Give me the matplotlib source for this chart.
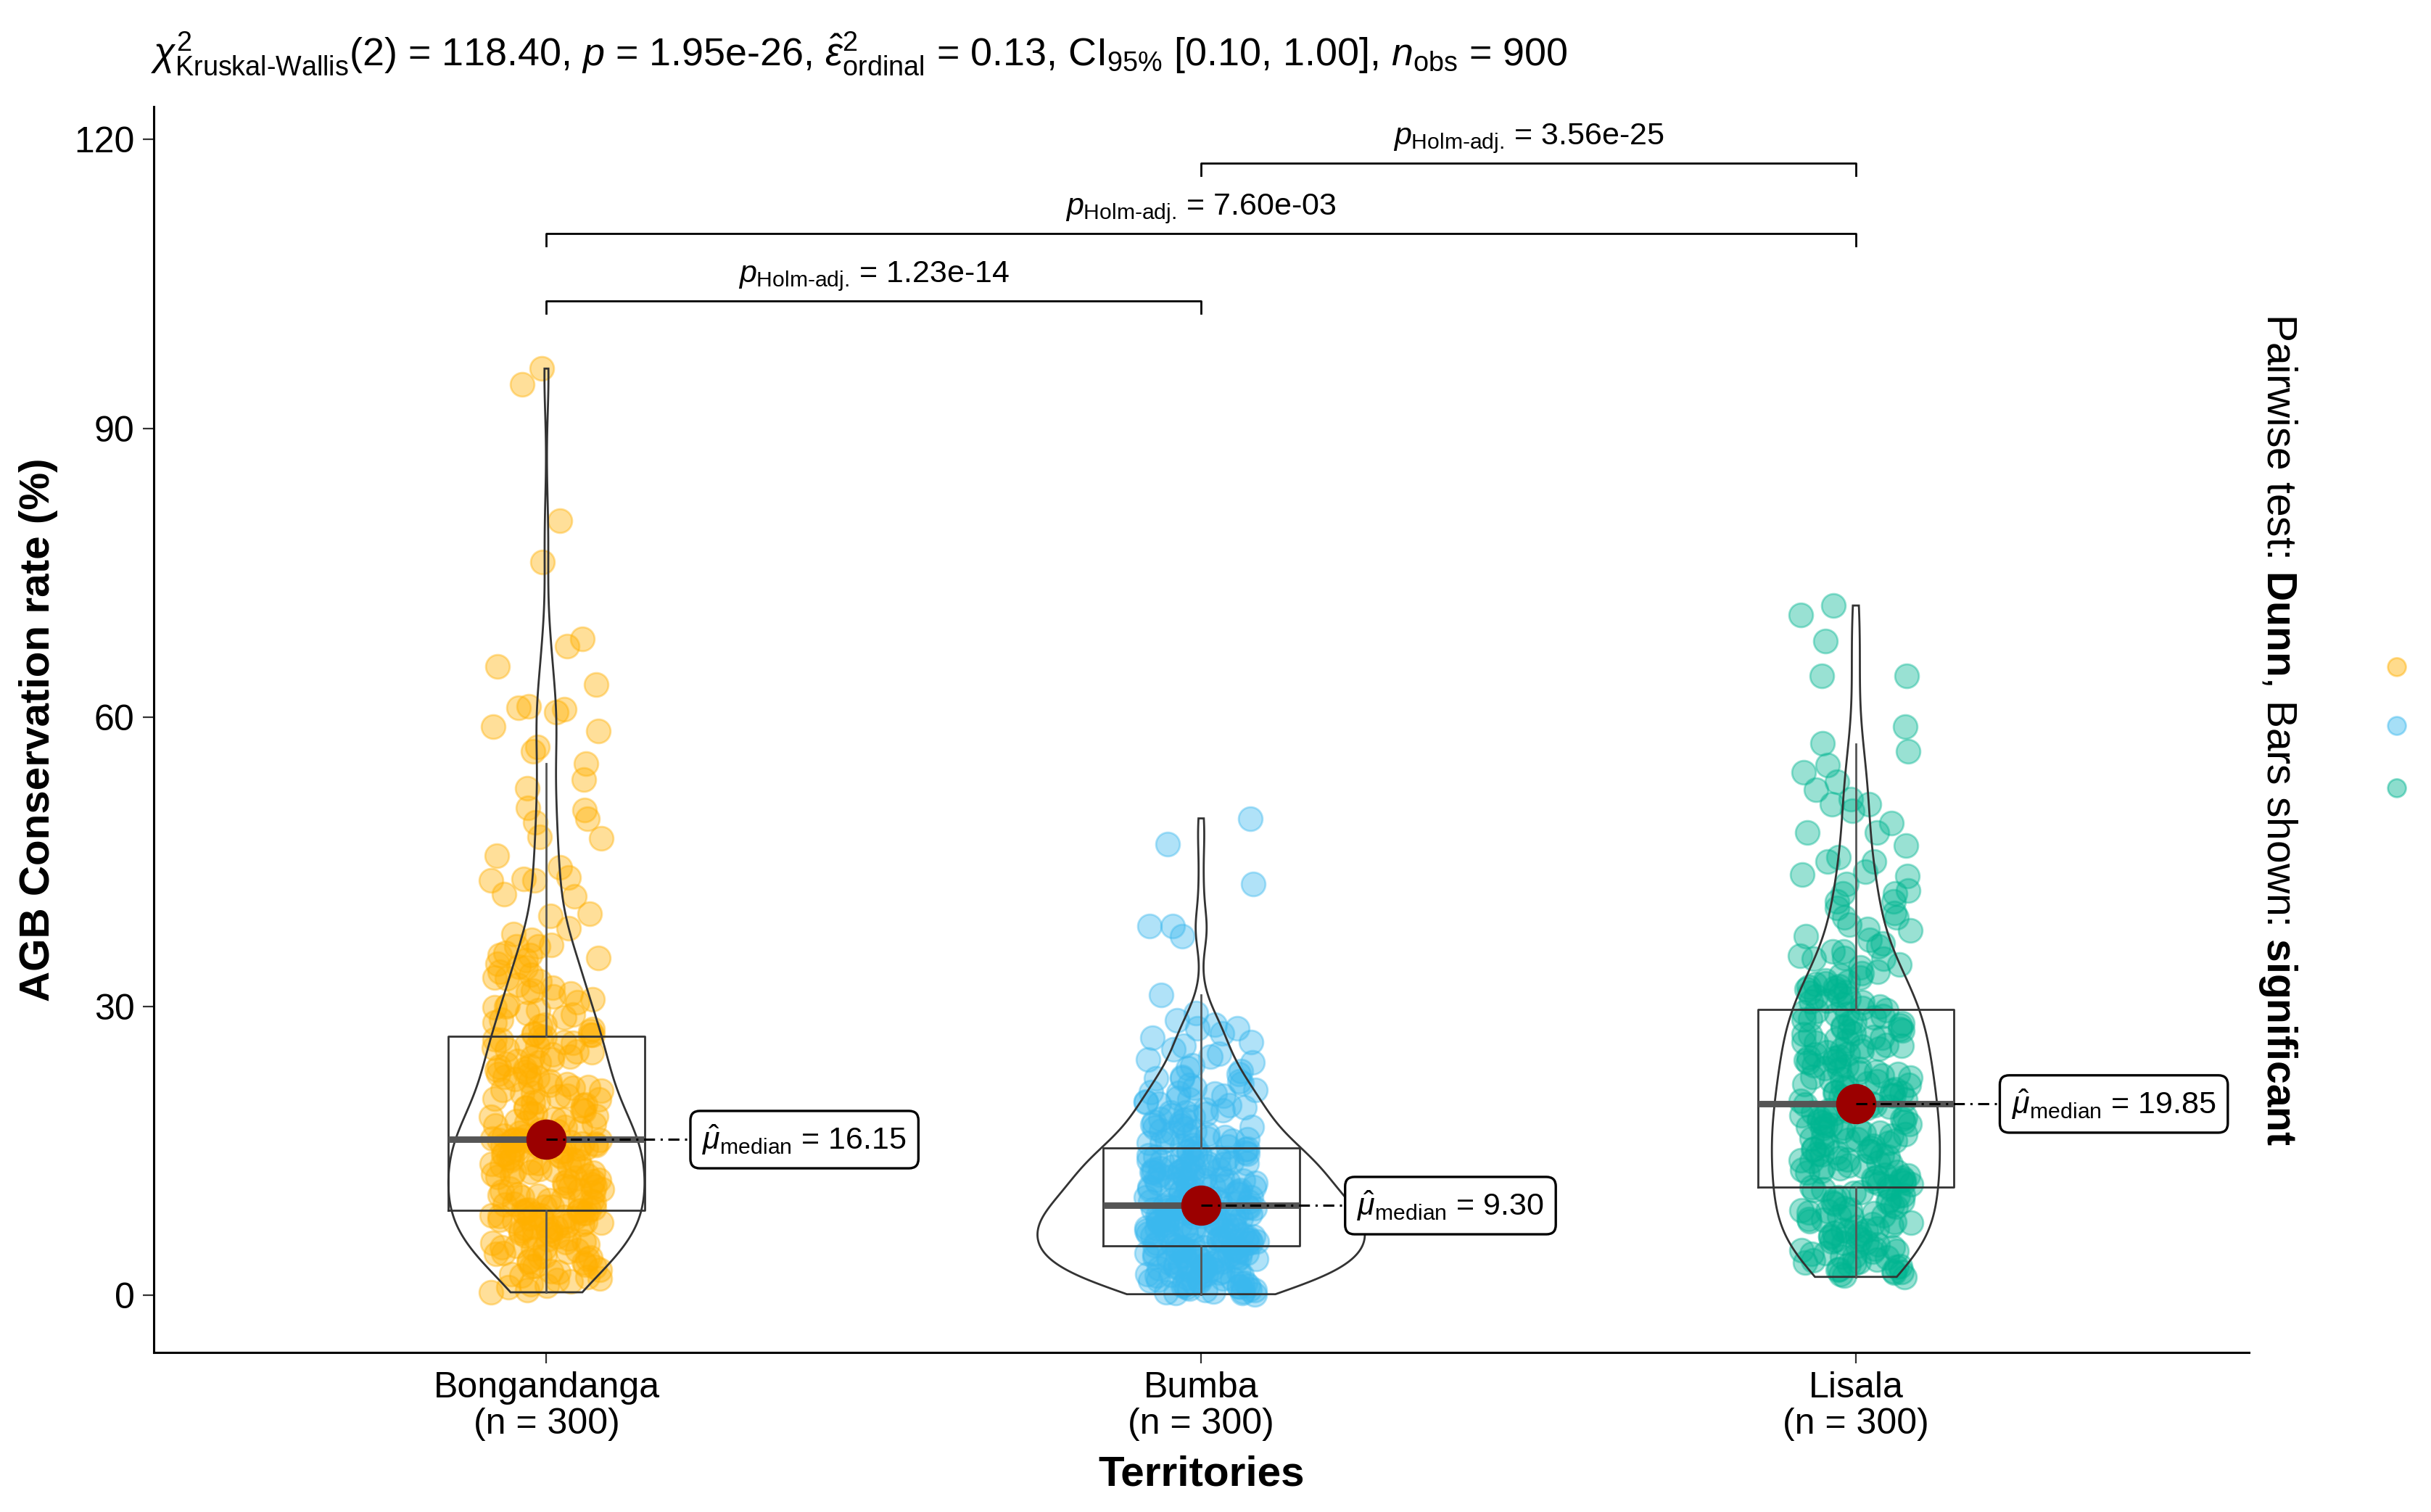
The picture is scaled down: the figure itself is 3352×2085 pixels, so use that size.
import numpy as np
import matplotlib
matplotlib.use("Agg")
import matplotlib.pyplot as plt

plt.rcParams['font.family'] = 'Liberation Sans'
plt.rcParams['mathtext.fontset'] = 'custom'
plt.rcParams['mathtext.rm'] = 'Liberation Sans'
plt.rcParams['mathtext.it'] = 'Liberation Sans:italic'
plt.rcParams['mathtext.bf'] = 'Liberation Sans:bold'

# ---- data ----
territories = ["Bongandanga", "Bumba", "Lisala"]
counts = [300, 300, 300]
colors = ["#FFB000", "#3AB8EE", "#00B591"]

bongandanga = [
    0.3, 0.5, 0.8, 1.0, 1.1, 1.4, 1.6, 1.7, 1.9, 2.0,
    2.2, 2.4, 2.5, 2.6, 2.9, 3.0, 3.0, 3.2, 3.4, 3.5,
    3.6, 3.8, 3.9, 4.0, 4.1, 4.3, 4.4, 4.5, 4.7, 4.8,
    4.9, 5.0, 5.1, 5.3, 5.4, 5.5, 5.6, 5.8, 5.9, 6.0,
    6.1, 6.2, 6.3, 6.5, 6.6, 6.7, 6.8, 6.9, 7.0, 7.1,
    7.2, 7.3, 7.4, 7.5, 7.5, 7.6, 7.7, 7.8, 7.9, 8.0,
    8.0, 8.1, 8.2, 8.3, 8.3, 8.4, 8.5, 8.5, 8.6, 8.7,
    8.7, 8.8, 8.8, 8.9, 8.9,
    9.0, 9.2, 9.2, 9.4, 9.5, 9.7, 9.8, 9.9, 10.0, 10.2,
    10.3, 10.4, 10.5, 10.7, 10.8, 10.9, 11.0, 11.2, 11.3, 11.4,
    11.5, 11.7, 11.8, 11.9, 12.0, 12.2, 12.3, 12.4, 12.5, 12.6,
    12.8, 12.9, 13.0, 13.1, 13.2, 13.4, 13.5, 13.6, 13.7, 13.8,
    13.9, 14.1, 14.2, 14.3, 14.4, 14.5, 14.6, 14.7, 14.9, 15.0,
    15.0, 15.1, 15.2, 15.3, 15.4, 15.4, 15.5, 15.6, 15.7, 15.7,
    15.8, 15.9, 15.9, 16.0, 16.0, 16.1, 16.1, 16.1, 16.1, 16.1,
    9.6, 11.1, 12.7, 14.0, 15.6,
    16.2, 16.3, 16.5, 16.6, 16.8, 16.9, 17.0, 17.2, 17.3, 17.5,
    17.6, 17.8, 17.9, 18.1, 18.2, 18.3, 18.5, 18.6, 18.8, 18.9,
    19.1, 19.2, 19.4, 19.5, 19.7, 19.8, 20.0, 20.1, 20.3, 20.4,
    20.6, 20.7, 20.9, 21.0, 21.2, 21.3, 21.5, 21.6, 21.8, 21.9,
    22.1, 22.2, 22.4, 22.6, 22.7, 22.9, 23.0, 23.2, 23.4, 23.5,
    23.7, 23.8, 24.0, 24.2, 24.3, 24.5, 24.7, 24.8, 25.0, 25.2,
    25.3, 25.5, 25.7, 25.9, 26.0, 26.2, 26.3, 26.5, 26.6, 26.8,
    26.9, 27.0, 27.0, 27.1, 27.2,
    27.4, 27.6, 27.9, 28.1, 28.3, 28.6, 28.8, 29.1, 29.3, 29.6,
    29.9, 30.1, 30.4, 30.7, 31.0, 31.3, 31.6, 31.9, 32.2, 32.6,
    32.9, 33.3, 33.6, 34.0, 34.4, 34.8, 35.3, 35.3, 35.5, 36.2,
    36.2, 36.4, 36.9, 38.1, 39.4, 39.6, 41.4, 41.6, 43.1, 43.1,
    43.2, 43.4, 44.4, 45.6, 47.4, 47.6, 49.1, 49.5, 50.4, 50.6,
    52.6, 53.5, 55.2, 56.5, 56.9, 58.6, 59.0, 60.5, 60.8, 61.0,
    61.1, 63.4, 65.3, 67.4, 68.1, 76.1, 80.4, 94.6, 96.2,
    30.0, 31.5, 33.0, 34.1, 35.0, 37.5,
]

bumba = [
    0.1, 0.2, 0.2, 0.3, 0.4, 0.5, 0.5, 0.6, 0.7, 0.8,
    0.9, 0.9, 1.0, 1.1, 1.2, 1.3, 1.3, 1.4, 1.5, 1.6,
    1.7, 1.7, 1.8, 1.9, 2.0, 2.1, 2.1, 2.2, 2.3, 2.4,
    2.5, 2.5, 2.6, 2.7, 2.8, 2.9, 2.9, 3.0, 3.1, 3.2,
    3.3, 3.3, 3.4, 3.5, 3.6, 3.6, 3.7, 3.8, 3.9, 3.9,
    4.0, 4.1, 4.1, 4.2, 4.3, 4.3, 4.4, 4.5, 4.5, 4.6,
    4.6, 4.7, 4.7, 4.8, 4.8, 4.9, 4.9, 0.4, 1.0, 1.6,
    2.2, 2.8, 3.4, 4.0, 4.4,
    5.0, 5.0, 5.1, 5.2, 5.2, 5.3, 5.4, 5.4, 5.5, 5.6,
    5.6, 5.7, 5.8, 5.8, 5.9, 6.0, 6.0, 6.1, 6.2, 6.2,
    6.3, 6.4, 6.4, 6.5, 6.6, 6.6, 6.7, 6.8, 6.8, 6.9,
    7.0, 7.0, 7.1, 7.2, 7.2, 7.3, 7.4, 7.4, 7.5, 7.6,
    7.6, 7.7, 7.8, 7.8, 7.9, 8.0, 8.0, 8.1, 8.2, 8.2,
    8.3, 8.4, 8.4, 8.5, 8.6, 8.6, 8.7, 8.8, 8.8, 8.9,
    9.0, 9.0, 9.1, 9.1, 9.2, 9.2, 9.3, 5.5, 6.1, 6.7,
    7.3, 7.9, 8.5, 9.0, 9.2,
    9.4, 9.5, 9.6, 9.7, 9.7, 9.8, 9.9, 10.0, 10.1, 10.2,
    10.2, 10.3, 10.4, 10.5, 10.6, 10.7, 10.7, 10.8, 10.9, 11.0,
    11.1, 11.2, 11.2, 11.3, 11.4, 11.5, 11.6, 11.7, 11.7, 11.8,
    11.9, 12.0, 12.1, 12.2, 12.2, 12.3, 12.4, 12.5, 12.6, 12.7,
    12.7, 12.8, 12.9, 13.0, 13.1, 13.2, 13.2, 13.3, 13.4, 13.5,
    13.6, 13.7, 13.7, 13.8, 13.9, 14.0, 14.1, 14.2, 14.2, 14.3,
    14.4, 14.5, 14.6, 14.7, 14.7, 14.8, 14.9, 15.0, 15.1, 15.2,
    15.3, 10.0, 11.0, 12.0, 13.0,
    15.4, 15.5, 15.6, 15.8, 15.9, 16.0, 16.2, 16.3, 16.4, 16.6,
    16.7, 16.9, 17.0, 17.1, 17.3, 17.4, 17.6, 17.7, 17.9, 18.0,
    18.2, 18.3, 18.5, 18.7, 18.8, 19.0, 19.2, 19.3, 19.5, 19.7,
    19.9, 20.1, 20.3, 20.5, 20.7, 20.9, 21.1, 21.3, 21.5, 21.8,
    22.0, 22.2, 22.5, 22.7, 23.0, 23.3, 23.6, 23.9, 24.2, 24.5,
    24.8, 25.1, 25.5, 25.9, 26.3, 26.7, 27.2, 27.7, 27.7, 28.1,
    28.5, 29.3, 31.2, 37.3, 38.3, 38.3, 42.7, 46.8, 49.5, 16.1,
    17.5, 19.0, 20.0, 21.0, 22.5,
]

lisala = [
    1.9, 2.0, 2.2, 2.3, 2.5, 2.6, 2.7, 2.9, 3.0, 3.2,
    3.3, 3.4, 3.6, 3.7, 3.9, 4.0, 4.1, 4.3, 4.4, 4.6,
    4.7, 4.8, 5.0, 5.1, 5.3, 5.4, 5.5, 5.7, 5.8, 6.0,
    6.1, 6.2, 6.4, 6.5, 6.7, 6.8, 6.9, 7.1, 7.2, 7.4,
    7.5, 7.6, 7.8, 7.9, 8.1, 8.2, 8.3, 8.5, 8.6, 8.8,
    8.9, 9.0, 9.2, 9.3, 9.5, 9.6, 9.7, 9.9, 10.0, 10.2,
    10.3, 10.4, 10.6, 10.7, 10.9, 11.0, 11.1, 2.4, 3.5, 4.5,
    5.6, 6.6, 7.7, 8.7, 9.8,
    11.2, 11.3, 11.5, 11.6, 11.7, 11.8, 11.9, 12.1, 12.2, 12.3,
    12.4, 12.5, 12.7, 12.8, 12.9, 13.0, 13.2, 13.3, 13.4, 13.5,
    13.6, 13.8, 13.9, 14.0, 14.1, 14.2, 14.4, 14.5, 14.6, 14.7,
    14.9, 15.0, 15.1, 15.2, 15.3, 15.5, 15.6, 15.7, 15.8, 16.0,
    16.1, 16.2, 16.3, 16.4, 16.6, 16.7, 16.8, 16.9, 17.0, 17.2,
    17.3, 17.4, 17.5, 17.7, 17.8, 17.9, 18.0, 18.1, 18.3, 18.4,
    18.5, 18.6, 18.7, 18.9, 19.0, 19.1, 19.2, 19.4, 19.5, 19.6,
    19.7, 19.8, 12.0, 14.8, 17.6,
    19.9, 20.0, 20.2, 20.3, 20.4, 20.6, 20.7, 20.8, 21.0, 21.1,
    21.2, 21.4, 21.5, 21.6, 21.8, 21.9, 22.0, 22.2, 22.3, 22.4,
    22.6, 22.7, 22.8, 23.0, 23.1, 23.2, 23.4, 23.5, 23.6, 23.8,
    23.9, 24.0, 24.2, 24.3, 24.4, 24.6, 24.7, 24.8, 25.0, 25.1,
    25.2, 25.4, 25.5, 25.6, 25.8, 25.9, 26.0, 26.2, 26.3, 26.4,
    26.6, 26.7, 26.8, 27.0, 27.1, 27.2, 27.4, 27.5, 27.6, 27.8,
    27.9, 28.0, 28.2, 28.3, 28.4, 28.6, 28.7, 28.8, 29.0, 29.1,
    29.2, 29.4, 29.5, 29.6, 21.0,
    29.8, 30.0, 30.2, 30.4, 30.6, 30.8, 31.0, 31.2, 31.4, 31.6,
    31.8, 31.9, 32.0, 32.1, 32.3, 32.5, 32.7, 33.0, 33.2, 33.6,
    34.0, 34.3, 34.9, 34.9, 35.2, 35.7, 35.7, 36.2, 36.9, 37.3,
    37.9, 38.5, 39.2, 39.2, 39.7, 40.2, 40.9, 40.9, 41.7, 41.7,
    42.7, 43.5, 43.7, 44.0, 45.0, 45.0, 45.5, 46.7, 48.0, 48.0,
    49.0, 50.3, 51.0, 51.0, 51.5, 52.5, 53.3, 54.3, 55.0, 56.5,
    57.3, 59.0, 64.3, 64.3, 67.9, 70.6, 71.6, 30.5, 31.5, 32.4,
    33.4, 35.0, 36.5, 38.0, 42.0,
]

# box statistics
medians = [16.15, 9.30, 19.85]
q1s = [8.8, 5.1, 11.2]
q3s = [26.9, 15.3, 29.7]
whis_lo = [0.3, 0.1, 1.9]
whis_hi = [55.2, 31.2, 57.2]

# pairwise comparisons (Dunn, Holm adjusted)
pairs = [(0, 1), (0, 2), (1, 2)]
pair_bar_y = [103.2, 110.2, 117.5]
pair_p = ["1.23e-14", "7.60e-03", "3.56e-25"]

groups = [bongandanga, bumba, lisala]

# ---- figure ----
fig = plt.figure(figsize=(16.76, 10.425), dpi=200)
ax = fig.add_axes([0.0632, 0.1055, 0.8618, 0.824])

# jittered points: deterministic quadratic Weyl spread (no lattice look)
jit = 0.085
for i, vals in enumerate(groups):
    v = np.array(vals)
    idx = np.arange(len(v), dtype=float) + 7 * i
    frac = (idx * idx * 0.7548776662 + idx * 0.5698402910) % 1.0
    offs = (frac - 0.5) * 2 * jit
    ax.scatter(i + offs, v, s=140, color=colors[i], alpha=0.4,
               edgecolors=colors[i], linewidths=1.0, zorder=2)

# violins (gaussian kde, bw.nrd0, trimmed, area-scaled)
def kde(v, grid):
    v = np.asarray(v)
    n = len(v)
    sd = v.std(ddof=1)
    iqr = np.percentile(v, 75) - np.percentile(v, 25)
    bw = 0.9 * min(sd, iqr / 1.34) * n ** -0.2
    z = (grid[:, None] - v[None, :]) / bw
    return np.exp(-0.5 * z ** 2).sum(axis=1) / (n * bw * np.sqrt(2 * np.pi))

grids, dens = [], []
for vals in groups:
    g = np.linspace(min(vals), max(vals), 512)
    grids.append(g)
    dens.append(kde(vals, g))
dmax = max(d.max() for d in dens)
for i, (g, d) in enumerate(zip(grids, dens)):
    hw = 0.25 * d / dmax
    xs = np.concatenate([i - hw, (i + hw)[::-1]])
    ys = np.concatenate([g, g[::-1]])
    ax.fill(xs, ys, facecolor="none", edgecolor="#333333", lw=1.0, zorder=3)

# boxplots
stats = []
for i in range(3):
    stats.append(dict(med=medians[i], q1=q1s[i], q3=q3s[i],
                      whislo=whis_lo[i], whishi=whis_hi[i], fliers=[]))
ax.bxp(stats, positions=[0, 1, 2], widths=0.3, showfliers=False,
       showcaps=False, manage_ticks=False, zorder=3,
       boxprops=dict(color="#333333", lw=1.0),
       medianprops=dict(color="#555555", lw=3.2, solid_capstyle="butt"),
       whiskerprops=dict(color="#555555", lw=1.0))

# median points and labels
ax.scatter(range(3), medians, s=360, color="#9B0000", zorder=5)
for i, m in enumerate(medians):
    ax.plot([i, i + 0.22], [m, m], color="black", lw=1.1,
            linestyle=(0, (5, 2.5, 1, 2.5)), zorder=6)
    ax.text(i + 0.238, m, r"$\hat{\mu}_{\mathrm{median}}$" + " = {:.2f}".format(m),
            ha="left", va="center", fontsize=15.5, zorder=7,
            bbox=dict(boxstyle="round,pad=0.38,rounding_size=0.3",
                      fc="white", ec="black", lw=1.2))

# significance brackets
tip = 1.25
for (a, b), yb, p in zip(pairs, pair_bar_y, pair_p):
    ax.plot([a, a, b, b], [yb - tip, yb, yb, yb - tip], color="black",
            lw=1.0, zorder=4)
    ax.text((a + b) / 2, yb + 2.0,
            r"$\it{p}_{\text{Holm-adj.}}$" + " = " + p,
            ha="center", va="baseline", fontsize=15.5)

# axes styling
ax.set_xlim(-0.6, 2.6)
ax.set_ylim(-5.95, 123.4)
ax.set_yticks([0, 30, 60, 90, 120])
ax.set_xticks(range(3))
ax.set_xticklabels(["{}\n(n = {})".format(t, c) for t, c in zip(territories, counts)],
                   linespacing=1.1)
for side in ["top", "right"]:
    ax.spines[side].set_visible(False)
for side in ["left", "bottom"]:
    ax.spines[side].set_linewidth(1.1)
ax.tick_params(length=5.4, width=0.8, color="#333333", labelsize=18, pad=4)
ax.set_xlabel("Territories", fontsize=21, fontweight="bold", labelpad=7)
ax.set_ylabel("AGB Conservation rate (%)", fontsize=21, fontweight="bold", labelpad=8)

fig.text(0.062, 0.9568,
         r"$\chi^2_{\text{Kruskal-Wallis}}$(2) = 118.40, $\it{p}$ = 1.95e-26, "
         r"$\hat{\varepsilon}^2_{\mathrm{ordinal}}$ = 0.13, CI$_{95\%}$ [0.10, 1.00], "
         r"$\it{n}_{\mathrm{obs}}$ = 900",
         ha="left", va="baseline", fontsize=19.4)

fig.text(0.937, 0.5175,
         r"Pairwise test: $\mathbf{Dunn}$, Bars shown: $\mathbf{significant}$",
         rotation=270, ha="center", va="center", fontsize=20.5)

# legend keys (labels fall outside the picture)
ax.scatter([0.986] * 3, [0.5588, 0.5199, 0.4787], s=80, color=colors,
           alpha=0.45, edgecolors=colors, linewidths=1.0,
           transform=fig.transFigure, clip_on=False)

fig.savefig("out.png", dpi=200)
